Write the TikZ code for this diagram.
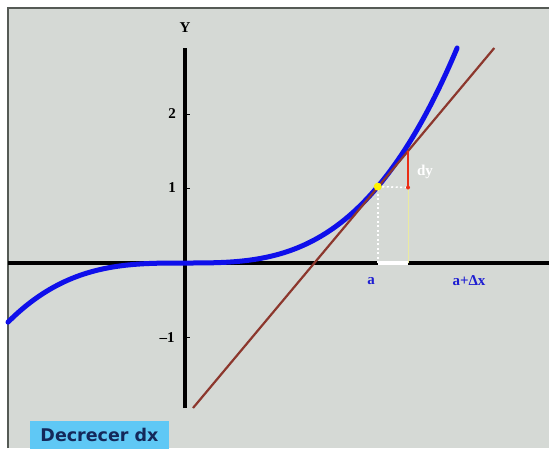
\documentclass[tikz,border=0pt]{standalone}
\usepackage{fontspec}
\setmainfont{Liberation Serif}
\newfontfamily\btnfont{DejaVu Sans}
\definecolor{bgc}{RGB}{213,217,213}
\definecolor{framec}{RGB}{85,90,85}
\definecolor{curvec}{RGB}{15,15,235}
\definecolor{tangc}{RGB}{140,55,45}
\definecolor{btnc}{RGB}{95,200,245}
\definecolor{btntextc}{RGB}{20,40,90}
\definecolor{guidec}{RGB}{235,235,160}
\definecolor{lblblue}{RGB}{30,30,210}
\definecolor{redc}{RGB}{235,45,20}
\begin{document}
\begin{tikzpicture}[x=1pt,y=-1pt,
  lbl/.style={font=\bfseries\fontsize{15}{15}\selectfont, inner sep=0pt},
  axisline/.style={line width=4pt, black},
  tick/.style={line width=1pt, black},
  btnbox/.style={fill=btnc, minimum width=139pt, minimum height=28pt, inner sep=0pt,
    font=\btnfont\bfseries\fontsize{17.5}{17.5}\selectfont, text=btntextc}]
\useasboundingbox (0,0) rectangle (549,448);
\fill[white] (0,0) rectangle (549,448);
\fill[bgc] (8,8) rectangle (549,448);
\draw[framec, line width=1.5pt] (8,448) -- (8,8) -- (549,8);

% coordinates
\coordinate (xl) at (8,263);
\coordinate (xr) at (549,263);
\coordinate (yt) at (185,48);
\coordinate (yb) at (185,408);
\coordinate (A) at (377.75,186.6);
\coordinate (Ax) at (377.75,263);
\coordinate (Bx) at (408,263);
\coordinate (B) at (408,144.7);
\coordinate (T) at (408,150.6);
\coordinate (H) at (408,187.5);
\coordinate (t1) at (193,408);
\coordinate (t2) at (494.3,48);

% axes
\draw[axisline] (xl) -- (xr);
\draw[axisline] (yb) -- (yt);
\foreach \v in {-1,1,2} \draw[tick] (186,{263-74.5*\v}) -- (190,{263-74.5*\v});

% guides
\draw[guidec, line width=1pt] (Bx) -- (B);
\draw[white, line width=1.6pt, dash pattern=on 2pt off 2.5pt] (Ax) -- (A);
\draw[white, line width=1.6pt, dash pattern=on 2pt off 2.5pt] (A) -- (H);
\draw[white, line width=4pt] (Ax) -- (Bx);

% curve
\draw[curvec, line width=5pt, line cap=round] plot[domain=-2.36:3.63, samples=120, smooth]
  ({185+75*\x},{263-4.5*\x*\x*\x});
% tangent
\draw[tangc, line width=2.2pt] (t1) -- (t2);
% dy
\draw[redc, line width=2.5pt] (H) -- (T);
\fill[redc] (H) circle (2pt);
\fill[yellow] (A) circle (4pt);

% labels
\node[lbl] (ylab) at (185,28) {Y};
\node[lbl] (l2) at (172,114) {2};
\node[lbl] (l1) at (172,188) {1};
\node[lbl] (lm1) at (167,338) {–1};
\node[lbl, text=lblblue] (la) at (371,281) {a};
\node[lbl, text=lblblue] (lax) at (469,281) {a+Δx};
\node[lbl, text=white] (dy) at (425,172) {dy};

\node[btnbox] (btn) at (99.5,435) {Decrecer dx};
\end{tikzpicture}
\end{document}
